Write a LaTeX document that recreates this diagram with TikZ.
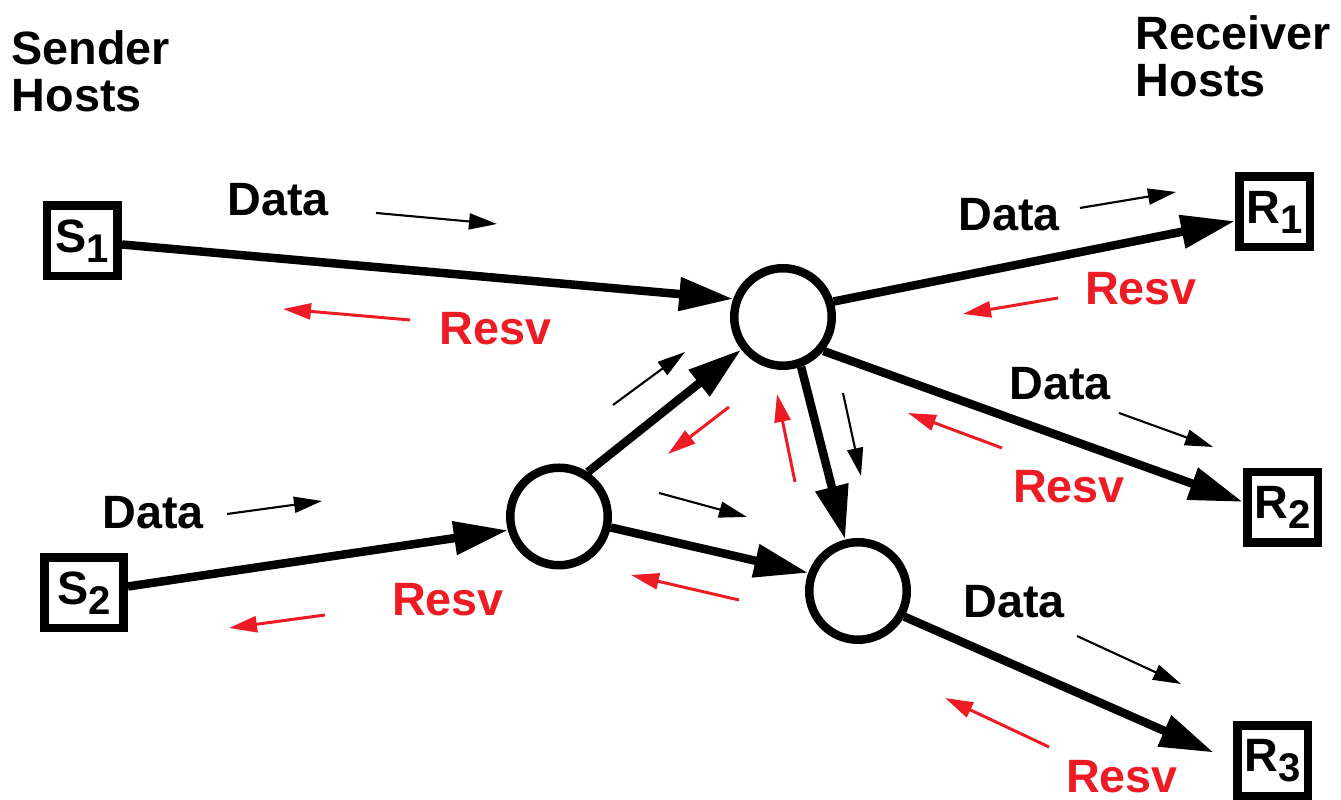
\documentclass[tikz,border=0pt]{standalone}
\usepackage{fontspec}
\setmainfont{Liberation Sans}
\usepackage{xcolor}
\usepackage{tikz}
\usetikzlibrary{arrows.meta}
\definecolor{resvred}{RGB}{237,28,36}
\newcommand{\hostname}[2]{#1\raisebox{-0.1cm}{\fontsize{11.4}{11.4}\selectfont #2}}

\begin{document}
\begin{tikzpicture}[
    every node/.style={font=\bfseries\fontsize{13.3}{13.3}\selectfont},
    host/.style={draw,line width=0.085cm,minimum size=0.705cm,inner sep=0pt},
    router/.style={circle,draw,line width=0.085cm,minimum size=0.975cm,inner sep=0pt},
    link/.style={line width=0.085cm,-{Triangle[length=0.54cm,width=0.32cm]}},
    hint/.style={line width=0.6pt,-{Triangle[length=0.28cm,width=0.16cm]}},
    resv/.style={hint,line width=0.85pt,draw=resvred},
    resvlabel/.style={text=resvred}]
    \useasboundingbox (0,0) rectangle (13.41,8);

    \node[anchor=north west,align=left,inner sep=0pt] (sendhosts) at (0.11,7.70) {Sender\\Hosts};
    \node[anchor=north west,align=left,inner sep=0pt] (recvhosts) at (11.35,7.85) {Receiver\\Hosts};

    \node[host] (s1) at (0.825,5.59) {\hostname{S}{1}};
    \node[host,minimum width=0.795cm] (s2) at (0.84,2.07) {\hostname{S}{2}};
    \node[host] (r1) at (12.745,5.88) {\hostname{R}{1}};
    \node[host] (r2) at (12.825,2.925) {\hostname{R}{2}};
    \node[host] (r3) at (12.725,0.39) {\hostname{R}{3}};

    \node[router] (a) at (7.83,4.83) {};
    \node[router] (b) at (5.59,2.835) {};
    \node[router] (c) at (8.58,2.09) {};

    \draw[link] (s1) -- (a.160);
    \draw[link] (s2) -- (b.195);
    \draw[link] (b.57) -- (a.218);
    \draw[link] (b.-12) -- (c.160);
    \draw[link] (a.-70) -- (c.104);
    \draw[link] (a.17) -- (r1.193);
    \draw[link] (a.-40) -- (r2.172);
    \draw[link,shorten >=0.21cm] (c.-29) -- (r3.west);

    \node (data1) at (2.78,6.00) {Data};
    \node (data2) at (1.53,2.87) {Data};
    \node (data3) at (10.09,5.85) {Data};
    \node (data4) at (10.60,4.165) {Data};
    \node (data5) at (10.14,1.985) {Data};

    \node[resvlabel] (resv1) at (4.955,4.71) {Resv};
    \node[resvlabel] (resv2) at (4.48,2.00) {Resv};
    \node[resvlabel] (resv3) at (11.41,5.11) {Resv};
    \node[resvlabel] (resv4) at (10.69,3.13) {Resv};
    \node[resvlabel] (resv5) at (11.22,0.23) {Resv};

    \draw[hint] (3.76,5.87) -- (4.97,5.76);
    \draw[hint] (2.27,2.86) -- (3.22,2.99);
    \draw[hint] (10.80,5.92) -- (11.76,6.08);
    \draw[hint] (11.19,3.87) -- (12.13,3.53);
    \draw[hint] (10.77,1.64) -- (11.81,1.16);
    \draw[hint] (6.13,3.95) -- (6.85,4.48);
    \draw[hint] (6.59,3.07) -- (7.47,2.83);
    \draw[hint] (8.43,4.07) -- (8.61,3.24);

    \draw[resv] (4.10,4.80) -- (2.83,4.91);
    \draw[resv] (3.25,1.85) -- (2.29,1.72);
    \draw[resv] (10.58,5.02) -- (9.63,4.86);
    \draw[resv] (10.02,3.52) -- (9.08,3.87);
    \draw[resv] (10.49,0.53) -- (9.45,1.02);
    \draw[resv] (7.29,3.93) -- (6.68,3.46);
    \draw[resv] (7.39,2.00) -- (6.31,2.25);
    \draw[resv] (7.95,3.18) -- (7.77,4.06);
\end{tikzpicture}
\end{document}
